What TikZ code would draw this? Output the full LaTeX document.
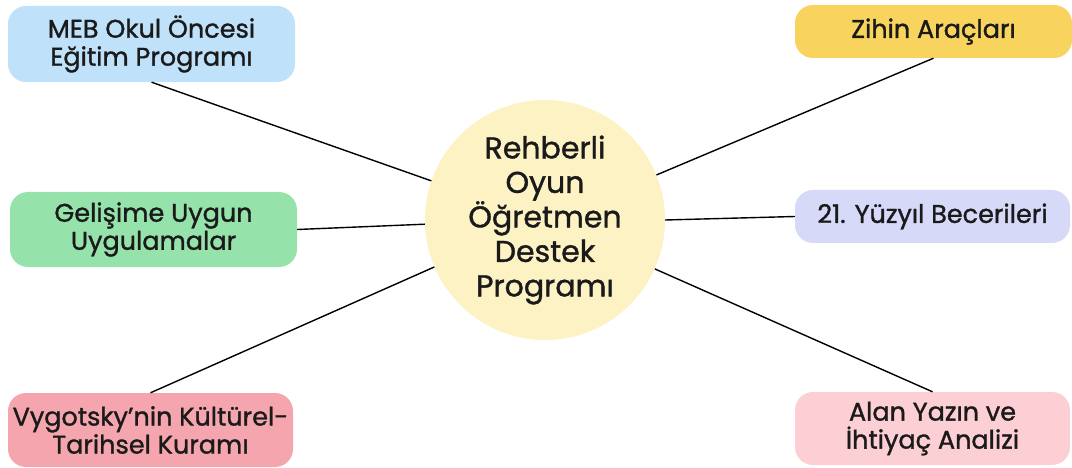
\documentclass[tikz,border=0pt]{standalone}
\usepackage{fontspec}
\setmainfont{Poppins}[FakeBold=1.2]
\definecolor{cblue}{HTML}{BFE1FA}
\definecolor{cyellow}{HTML}{F8D45E}
\definecolor{cgreen}{HTML}{95E3AA}
\definecolor{clav}{HTML}{D6DAF8}
\definecolor{cpink}{HTML}{F5A5AE}
\definecolor{cpinklight}{HTML}{FCCFD5}
\definecolor{ccircle}{HTML}{FCF2C4}
\definecolor{ctext}{HTML}{1A1A1A}
\begin{document}
\begin{tikzpicture}[x=1pt,y=-1pt,
  box/.style={rounded corners=18pt, align=center, inner sep=0pt, text=ctext,
    font=\fontsize{25.5}{28}\selectfont},
  link/.style={draw=black, line width=1.4pt}]
\useasboundingbox (0,0) rectangle (1072,468);
\node[circle, fill=ccircle, minimum size=240pt, inner sep=0pt, align=center, text=ctext,
  font=\fontsize{30}{34.5}\selectfont] (c) at (545,220)
  {Rehberli\\Oyun\\Öğretmen\\Destek\\Programı};
\node[box, fill=cblue, minimum width=287pt, minimum height=76pt] (meb) at (151.5,44)
  {MEB Okul Öncesi\\Eğitim Programı};
\node[box, fill=cyellow, minimum width=277pt, minimum height=53pt] (zihin) at (933.5,31.5)
  {Zihin Araçları};
\node[box, fill=cgreen, minimum width=287pt, minimum height=75pt] (gel) at (153.5,229.5)
  {Gelişime Uygun\\Uygulamalar};
\node[box, fill=clav, minimum width=275pt, minimum height=53pt] (yuz) at (932.5,216.5)
  {21. Yüzyıl Becerileri};
\node[box, fill=cpink, minimum width=285pt, minimum height=74pt] (vyg) at (150.5,430)
  {Vygotsky’nin Kültürel-\\Tarihsel Kuramı};
\node[box, fill=cpinklight, minimum width=275pt, minimum height=73pt] (alan) at (932.5,428.5)
  {Alan Yazın ve\\İhtiyaç Analizi};
\draw[link] (meb.south) -- (c.161);
\draw[link] (gel.east) -- (c.182);
\draw[link] (vyg.north) -- (c.203.5);
\draw[link] (zihin.south) -- (c.22);
\draw[link] (yuz.west) -- (c.0.5);
\draw[link] (alan.north) -- (c.-24.5);
\end{tikzpicture}
\end{document}
